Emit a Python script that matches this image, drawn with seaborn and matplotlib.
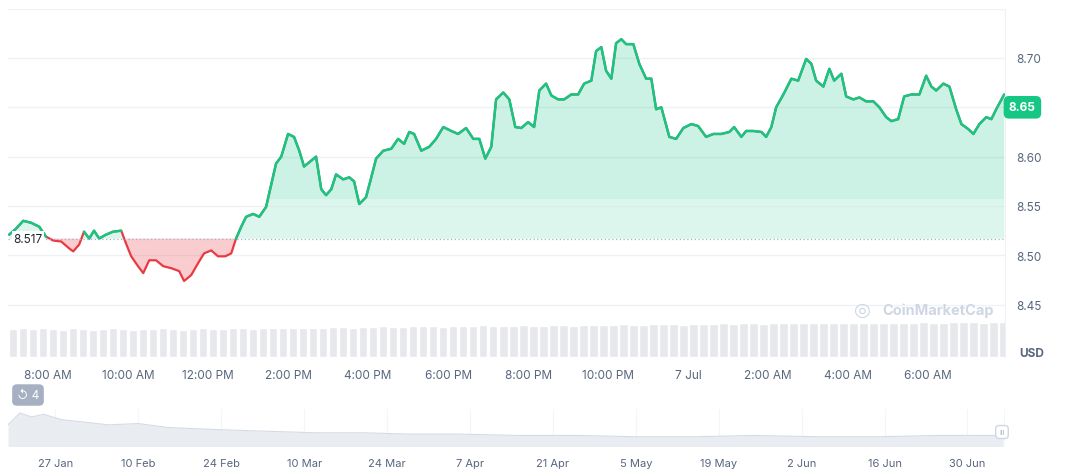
import numpy as np
import pandas as pd
import matplotlib.pyplot as plt
import seaborn as sns

# ============================================================
# data
# ============================================================
# hours since 00:00 on 6 Jul
hours = [7.03, 7.20, 7.38, 7.58, 7.78, 7.95, 8.13, 8.33, 8.53, 8.63,
         8.78, 8.90, 9.03, 9.15, 9.28, 9.45, 9.63, 9.83, 9.95, 10.08,
         10.25, 10.38, 10.53, 10.70, 10.88, 11.08, 11.28, 11.40, 11.58, 11.75,
         11.90, 12.08, 12.25, 12.43, 12.58, 12.70, 12.83, 12.95, 13.13, 13.28,
         13.45, 13.58, 13.70, 13.83, 14.00, 14.15, 14.28, 14.40, 14.58, 14.70,
         14.83, 14.95, 15.08, 15.20, 15.38, 15.53, 15.65, 15.78, 15.95, 16.08,
         16.20, 16.38, 16.58, 16.75, 16.90, 17.03, 17.15, 17.33, 17.53, 17.70,
         17.88, 18.08, 18.25, 18.45, 18.63, 18.78, 18.93, 19.08, 19.20, 19.38,
         19.53, 19.68, 19.83, 20.00, 20.15, 20.28, 20.45, 20.58, 20.75, 20.90,
         21.08, 21.25, 21.40, 21.58, 21.70, 21.83, 21.95, 22.08, 22.20, 22.33,
         22.45, 22.63, 22.78, 22.95, 23.08, 23.20, 23.33, 23.53, 23.70, 23.88,
         24.08, 24.25, 24.45, 24.63, 24.83, 25.03, 25.15, 25.33, 25.45, 25.63,
         25.83, 25.95, 26.08, 26.20, 26.38, 26.58, 26.75, 26.95, 27.08, 27.20,
         27.38, 27.53, 27.65, 27.83, 27.95, 28.13, 28.28, 28.45, 28.63, 28.78,
         28.95, 29.08, 29.25, 29.40, 29.58, 29.78, 29.95, 30.08, 30.20, 30.38,
         30.53, 30.70, 30.83, 31.00, 31.13, 31.28, 31.45, 31.58, 31.70, 31.90]
price = [8.521, 8.527, 8.535, 8.533, 8.529, 8.519, 8.515, 8.514, 8.507, 8.504,
         8.511, 8.524, 8.517, 8.525, 8.517, 8.521, 8.524, 8.525, 8.512, 8.499,
         8.489, 8.482, 8.495, 8.495, 8.489, 8.487, 8.484, 8.474, 8.480, 8.492,
         8.502, 8.505, 8.499, 8.499, 8.502, 8.517, 8.529, 8.539, 8.542, 8.539,
         8.549, 8.572, 8.593, 8.600, 8.623, 8.620, 8.606, 8.590, 8.596, 8.600,
         8.567, 8.561, 8.567, 8.582, 8.577, 8.579, 8.575, 8.552, 8.559, 8.579,
         8.598, 8.606, 8.608, 8.618, 8.613, 8.625, 8.623, 8.606, 8.610, 8.618,
         8.630, 8.626, 8.623, 8.629, 8.618, 8.618, 8.598, 8.610, 8.658, 8.665,
         8.658, 8.630, 8.629, 8.635, 8.630, 8.667, 8.674, 8.662, 8.658, 8.658,
         8.663, 8.663, 8.674, 8.677, 8.707, 8.711, 8.687, 8.679, 8.715, 8.719,
         8.714, 8.714, 8.694, 8.679, 8.679, 8.648, 8.650, 8.620, 8.618, 8.629,
         8.633, 8.631, 8.620, 8.623, 8.623, 8.625, 8.630, 8.620, 8.626, 8.626,
         8.625, 8.620, 8.630, 8.650, 8.663, 8.679, 8.677, 8.699, 8.694, 8.677,
         8.671, 8.689, 8.677, 8.684, 8.661, 8.658, 8.660, 8.656, 8.656, 8.650,
         8.640, 8.636, 8.638, 8.661, 8.663, 8.663, 8.682, 8.671, 8.667, 8.674,
         8.671, 8.648, 8.633, 8.628, 8.623, 8.633, 8.640, 8.638, 8.648, 8.663]
open_price = 8.517
last_price = "8.65"

# volume bars, one per quarter hour (relative units)
volume = [34, 35, 34, 35, 34, 33, 35, 34, 33, 34, 35, 34, 33, 34, 34, 35, 34, 33, 34, 35,
          34, 34, 35, 35, 34, 35, 36, 35, 35, 36, 36, 36, 37, 37, 36, 37, 37, 38, 37, 37,
          38, 38, 38, 37, 38, 38, 38, 39, 38, 38, 38, 39, 38, 38, 39, 39, 38, 39, 39, 39,
          39, 40, 39, 39, 40, 40, 40, 39, 40, 40, 40, 41, 40, 41, 41, 40, 41, 41, 41, 41,
          42, 41, 41, 42, 42, 41, 42, 42, 42, 42, 42, 43, 42, 42, 43, 43, 43, 42, 43, 43,
          43, 43, 44, 43, 43, 44, 44, 44, 44, 44]
vol_start = 7.0

# navigator (year overview)
nav_dates = ["2025-01-19", "2025-01-21", "2025-01-23", "2025-01-25", "2025-01-28",
             "2025-02-01", "2025-02-05", "2025-02-10", "2025-02-15", "2025-02-20",
             "2025-02-26", "2025-03-05", "2025-03-12", "2025-03-20", "2025-03-28",
             "2025-04-05", "2025-04-15", "2025-04-25", "2025-05-05", "2025-05-15",
             "2025-05-25", "2025-06-05", "2025-06-15", "2025-06-25", "2025-07-06"]
nav_vals = [8.0, 8.9, 8.6, 8.8, 8.4, 8.2, 8.0, 8.1, 7.8, 7.7, 7.6, 7.5, 7.4, 7.4, 7.3,
            7.3, 7.2, 7.2, 7.1, 7.1, 7.2, 7.1, 7.1, 7.2, 7.2]
nav_ticks = ["2025-01-27", "2025-02-10", "2025-02-24", "2025-03-10", "2025-03-24",
             "2025-04-07", "2025-04-21", "2025-05-05", "2025-05-19", "2025-06-02",
             "2025-06-16", "2025-06-30"]

# ============================================================
# setup
# ============================================================
sns.set_style("white")
plt.rcParams["font.family"] = ["Inter", "DejaVu Sans"]

GREEN = "#16c784"
RED = "#ea3943"
GREY = "#58667e"

W, H = 1072, 477
fig = plt.figure(figsize=(W / 100, H / 100), dpi=100)

base = pd.Timestamp("2025-07-06")
df = pd.DataFrame({"t": base + pd.to_timedelta(hours, unit="h"), "price": price})

ax = fig.add_axes([8 / W, 1 - 358 / H, 997 / W, 348 / H])
y0, y1 = 8.397, 8.7496
ax.set_ylim(y0, y1)
tmin = base + pd.Timedelta(hours=7.0)
tmax = base + pd.Timedelta(hours=31.92)
ax.set_xlim(tmin, tmax)

# volume on a twin axis, sitting at the bottom
axv = ax.twinx()
vt = base + pd.to_timedelta(vol_start + np.arange(len(volume)) * 0.25 + 0.125, unit="h")
axv.bar(vt, volume, width=0.22 / 24, color="#e6e8ec", zorder=0)
axv.set_ylim(0, 44 * 348 / 36)
axv.axis("off")
ax.set_zorder(axv.get_zorder() + 1)
ax.patch.set_visible(False)

for v in [8.45, 8.50, 8.55, 8.60, 8.65, 8.70]:
    ax.axhline(v, color="#eff2f5", lw=1, zorder=0)
ax.axhline(y1, color="#eff2f5", lw=1)

ax.fill_between(df["t"], df["price"], open_price, where=df["price"] >= open_price,
                interpolate=True, color=GREEN, alpha=0.22, lw=0)
ax.fill_between(df["t"], df["price"], open_price, where=df["price"] <= open_price,
                interpolate=True, color=RED, alpha=0.25, lw=0)
# lighter band near the baseline, like the gradient
ax.fill_between(df["t"], np.minimum(df["price"], open_price + 0.04), open_price,
                where=df["price"] >= open_price, interpolate=True,
                color="white", alpha=0.35, lw=0)

up = np.where(df["price"] >= open_price, df["price"], np.nan)
sns.lineplot(data=df, x="t", y="price", ax=ax, color=RED, lw=1.6)
ax.plot(df["t"], up, color=GREEN, lw=1.8)
ax.axhline(open_price, color="#a6b0c3", lw=0.9, ls=(0, (1, 2)))
ax.text(5 / 997, open_price, "8.517", transform=ax.get_yaxis_transform(),
        ha="left", va="center", fontsize=8.5, color="#222531",
        bbox=dict(fc="white", ec="none", pad=1))

ax.yaxis.tick_right()
ax.set_yticks([8.45, 8.50, 8.55, 8.60, 8.65, 8.70])
ax.set_yticklabels(["8.45", "8.50", "8.55", "8.60", "", "8.70"])
ax.tick_params(axis="y", length=0, pad=8, labelsize=8.5, labelcolor=GREY)
ax.tick_params(axis="x", length=0, pad=9, labelsize=8.5, labelcolor=GREY)
xt = [base + pd.Timedelta(hours=h) for h in range(8, 31, 2)]
ax.set_xticks(xt)
ax.set_xticklabels(["8:00 AM", "10:00 AM", "12:00 PM", "2:00 PM", "4:00 PM", "6:00 PM",
                    "8:00 PM", "10:00 PM", "7 Jul", "2:00 AM", "4:00 AM", "6:00 AM"])
ax.set_xlabel("")
ax.set_ylabel("")
for s in ["top", "left", "bottom"]:
    ax.spines[s].set_visible(False)
ax.spines["right"].set_color("#eff2f5")

ax.text(1.004, float(last_price), last_price, transform=ax.get_yaxis_transform(),
        ha="left", va="center", fontsize=8.5, color="white", fontweight="bold",
        bbox=dict(boxstyle="round,pad=0.45", fc=GREEN, ec="none"))
fig.text(1019 / W, 1 - 354 / H, "USD", fontsize=8.5, color=GREY, fontweight="bold",
         va="center")
fig.text(882 / W, 1 - 311 / H, "CoinMarketCap", fontsize=10.5, color="#cfd6e4",
         fontweight="bold", va="center")
fig.text(862 / W, 1 - 311 / H, "\u25CE", fontsize=14, color="#cfd6e4", va="center",
         ha="center")
fig.text(28 / W, 1 - 396 / H, "\u21BA 4", fontsize=8.5, color="white", va="center",
         ha="center", bbox=dict(boxstyle="round,pad=0.4", fc="#a6b0c3", ec="none"))

# ============================================================
# navigator
# ============================================================
axn = fig.add_axes([8 / W, 1 - 447 / H, 997 / W, 37 / H])
nd = pd.to_datetime(nav_dates)
axn.fill_between(nd, nav_vals, 0, color="#e9edf2", lw=0)
axn.plot(nd, nav_vals, color="#d6dbe3", lw=0.8)
axn.set_ylim(6.4, 9.2)
axn.set_xlim(pd.Timestamp("2025-01-19"), pd.Timestamp("2025-07-06 08:00"))
tk = pd.to_datetime(nav_ticks)
for t in tk:
    axn.axvline(t, color="#f3f5f8", lw=0.8, zorder=0)
axn.set_xticks(tk)
axn.set_xticklabels([f"{t.day} {t.strftime('%b')}" for t in tk])
axn.tick_params(axis="x", length=0, pad=9, labelsize=8, labelcolor=GREY)
axn.set_yticks([])
for s in axn.spines.values():
    s.set_visible(False)
axn.axvline(pd.Timestamp("2025-07-06 08:00"), color="#cfd6e4", lw=1)
fig.text(1002 / W, 1 - 433 / H, "III", fontsize=5, color="#a6b0c3", va="center",
         ha="center", bbox=dict(boxstyle="round,pad=0.5", fc="white", ec="#cfd6e4"))

plt.savefig("out.png", dpi=100)
